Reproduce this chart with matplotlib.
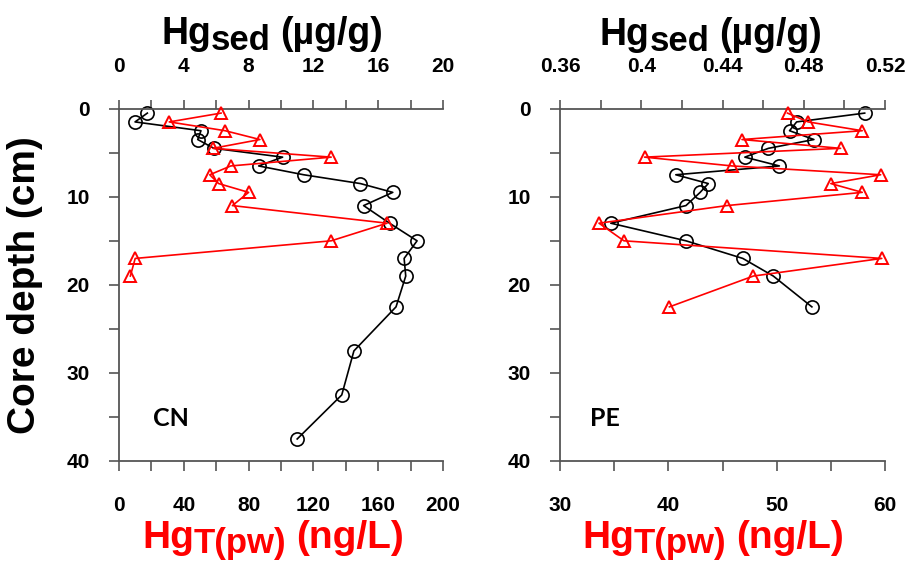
import matplotlib
matplotlib.use('Agg')
import matplotlib.pyplot as plt
from matplotlib.ticker import FixedLocator, MultipleLocator

plt.rcParams['font.family'] = ['Liberation Sans', 'DejaVu Sans']

# ---------------- data ----------------
cn_sed_depth = [0.5, 1.5, 2.5, 3.5, 4.5, 5.5, 6.5, 7.5, 8.5, 9.5, 11, 13, 15, 17, 19, 22.5, 27.5, 32.5, 37.5]
cn_sed = [1.75, 0.99, 5.06, 4.86, 5.86, 10.1, 8.62, 11.4, 14.9, 16.9, 15.1, 16.7, 18.4, 17.6, 17.7, 17.1, 14.5, 13.75, 11.0]
cn_pw_depth = [0.5, 1.5, 2.5, 3.5, 4.5, 5.5, 6.5, 7.5, 8.5, 9.5, 11, 13, 15, 17, 19]
cn_pw = [63, 31, 65.5, 87, 58, 131, 69, 56, 61.5, 80, 70, 165.5, 131, 10, 7]

pe_sed_depth = [0.5, 1.5, 2.5, 3.5, 4.5, 5.5, 6.5, 7.5, 8.5, 9.5, 11, 13, 15, 17, 19, 22.5]
pe_sed = [0.510, 0.4765, 0.473, 0.485, 0.4626, 0.451, 0.468, 0.417, 0.433, 0.429, 0.422, 0.385, 0.422, 0.450, 0.465, 0.484]
pe_pw_depth = [0.5, 1.5, 2.5, 3.5, 4.5, 5.5, 6.5, 7.5, 8.5, 9.5, 11, 13, 15, 17, 19, 22.5]
pe_pw = [51.0, 52.9, 57.9, 46.8, 55.9, 37.8, 45.9, 59.6, 55.0, 57.9, 45.4, 33.6, 35.9, 59.7, 47.85, 40.1]

cn_pw_ticks = [0, 40, 80, 120, 160, 200]
cn_pw_labels = ['0', '40', '80', '120', '160', '200']
cn_sed_ticks = [0, 4, 8, 12, 16, 20]
cn_sed_labels = ['0', '4', '8', '12', '16', '20']
pe_pw_ticks = [30, 40, 50, 60]
pe_pw_labels = ['30', '40', '50', '60']
pe_sed_ticks = [0.36, 0.40, 0.44, 0.48, 0.52]
pe_sed_labels = ['0.36', '0.4', '0.44', '0.48', '0.52']
depth_ticks = [0, 10, 20, 30, 40]
depth_labels = ['0', '10', '20', '30', '40']
site_names = ['CN', 'PE']

# ---------------- figure ----------------
W, H = 908, 563
fig = plt.figure(figsize=(W / 100, H / 100), dpi=100)

def axrect(x0, y0, x1, y1):
    return [x0 / W, 1 - y1 / H, (x1 - x0) / W, (y1 - y0) / H]

SPINE = '#555555'
panels = [
    dict(rect=axrect(119, 108.7, 443, 461), pw=cn_pw, pwd=cn_pw_depth, sed=cn_sed, sedd=cn_sed_depth,
         pwlim=(0, 200), pwt=cn_pw_ticks, pwl=cn_pw_labels, pwminor=20,
         sedlim=(0, 20), sedt=cn_sed_ticks, sedl=cn_sed_labels, sedminor=2,
         name=site_names[0], namex=21, ylabel=True),
    dict(rect=axrect(560, 108.7, 885, 461), pw=pe_pw, pwd=pe_pw_depth, sed=pe_sed, sedd=pe_sed_depth,
         pwlim=(30, 60), pwt=pe_pw_ticks, pwl=pe_pw_labels, pwminor=5,
         sedlim=(0.36, 0.52), sedt=pe_sed_ticks, sedl=pe_sed_labels, sedminor=0.02,
         name=site_names[1], namex=32.8, ylabel=False),
]

for p in panels:
    ax = fig.add_axes(p['rect'])
    ax2 = ax.twiny()
    ax.set_zorder(ax2.get_zorder() + 1)
    ax.patch.set_visible(False)

    ax2.plot(p['sed'], p['sedd'], color='black', lw=1.2, marker='o', ms=9.5,
             mfc='none', mec='black', mew=1.2, clip_on=False)
    ax.plot(p['pw'], p['pwd'], color='#ff0000', lw=1.2, marker='^', ms=9,
            mfc='none', mec='#ff0000', mew=1.4, clip_on=False)

    ax.set_xlim(*p['pwlim'])
    ax2.set_xlim(*p['sedlim'])
    ax.set_ylim(40, 0)

    for a in (ax, ax2):
        for s in a.spines.values():
            s.set_color(SPINE)
            s.set_linewidth(1.3)
        a.spines['right'].set_visible(False)
    ax.spines['top'].set_visible(False)
    ax2.spines['bottom'].set_visible(False)
    ax2.spines['left'].set_visible(False)

    ax.xaxis.set_major_locator(FixedLocator(p['pwt']))
    ax.set_xticklabels(p['pwl'])
    ax.xaxis.set_minor_locator(MultipleLocator(p['pwminor']))
    ax2.xaxis.set_major_locator(FixedLocator(p['sedt']))
    ax2.set_xticklabels(p['sedl'])
    ax2.xaxis.set_minor_locator(MultipleLocator(p['sedminor']))
    ax.yaxis.set_major_locator(FixedLocator(depth_ticks))
    ax.set_yticklabels(depth_labels)
    ax.yaxis.set_minor_locator(MultipleLocator(5))

    ax.tick_params(axis='x', which='both', direction='out', length=7, width=1.2, color=SPINE,
                   labelsize=15, pad=18, bottom=True, top=False)
    ax.tick_params(axis='y', which='both', direction='out', length=7, width=1.2, color=SPINE,
                   labelsize=15, pad=14, left=True, right=False)
    ax2.tick_params(axis='x', which='both', direction='out', length=6.5, width=1.2, color=SPINE,
                    labelsize=15, pad=17, top=True, bottom=False)
    ax2.tick_params(axis='y', which='both', left=False, right=False, labelleft=False, labelright=False)
    for lab in ax.get_xticklabels() + ax.get_yticklabels() + ax2.get_xticklabels():
        lab.set_fontweight('bold')

    if p['ylabel']:
        ax.set_ylabel('Core depth (cm)', fontsize=28, fontweight='bold', labelpad=17)

    ax.text(p['namex'], 36.0, p['name'], fontsize=18, fontweight='bold', family=['Lato', 'DejaVu Sans'],
            ha='left', va='baseline')

fig.canvas.draw()
renderer = fig.canvas.get_renderer()

def compose(x_px, parts):
    x = x_px
    for s, size, yb, color, gap in parts:
        x += gap
        t = fig.text(x / W, 1 - yb / H, s, fontsize=size, fontweight='bold', color=color,
                     ha='left', va='baseline')
        bb = t.get_window_extent(renderer)
        x = bb.x1

top_parts = lambda yb: [('Hg', 27, yb, 'black', 0), ('sed', 25, yb + 6, 'black', 0),
                        ('(µg/g)', 27, yb, 'black', 9)]
bot_parts = lambda yb: [('Hg', 28, yb, '#ff0000', 0), ('T(pw)', 25, yb + 4, '#ff0000', 0),
                        ('(ng/L)', 28, yb, '#ff0000', 10)]

compose(161, top_parts(44))
compose(600, top_parts(45))
compose(142, bot_parts(548.5))
compose(582, bot_parts(548.5))

fig.savefig('out.png', dpi=100)
